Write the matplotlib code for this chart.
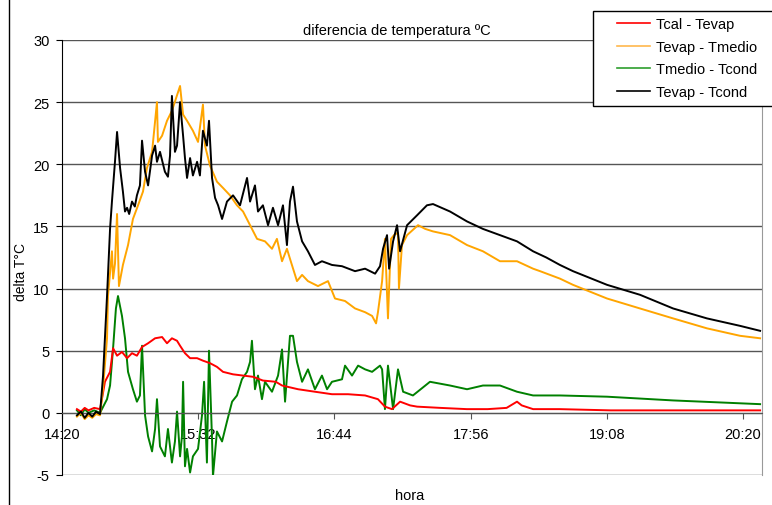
import numpy as np
import matplotlib
matplotlib.use("Agg")
import matplotlib.pyplot as plt
from matplotlib.lines import Line2D
from matplotlib.patches import Rectangle

plt.rcParams['font.family'] = ['Liberation Sans', 'DejaVu Sans']
plt.rcParams['axes.unicode_minus'] = False

# time in minutes after 14:20, values in degrees C
red_t = [7.9, 10, 12, 14, 17, 20.1, 21.1, 22.7, 25.4, 27.0, 29.1, 31.7, 34.4, 37.0, 39.6, 42.3,
         45.5, 49.2, 52.9, 55.5, 58.1, 60.8, 62.4, 65.0, 67.7, 71.4, 74.5, 78.2, 81.9, 85.1,
         90.4, 95.7, 101.0, 106.2, 113.0, 116.3, 124.8, 133.7, 142.7, 151.2, 160.2, 167.0,
         170.7, 174.4, 178.7, 184.0, 187.7, 200.0, 214.0, 225.0, 235.0, 240.5, 243.0, 249.0,
         263.0, 290.0, 320.0, 350.0, 369.0]
red_v = [0.3, 0.1, 0.4, 0.2, 0.4, 0.3, 1.1, 2.5, 3.3, 5.2, 4.6, 4.9, 4.4, 4.8, 4.6, 5.3,
         5.6, 6.0, 6.1, 5.6, 6.0, 5.8, 5.4, 4.8, 4.4, 4.4, 4.2, 4.0, 3.7, 3.3,
         3.1, 3.0, 2.9, 2.6, 2.5, 2.2, 1.9, 1.7, 1.5, 1.5, 1.4, 1.1,
         0.5, 0.3, 0.9, 0.6, 0.5, 0.4, 0.3, 0.3, 0.4, 0.9, 0.6, 0.3,
         0.3, 0.2, 0.2, 0.2, 0.2]

orange_t = [7.9, 10, 12, 14, 16, 18, 20.1, 21.7, 23.8, 24.3, 26.4, 27.0, 28.0, 29.1, 30.1, 32.2,
            34.9, 37.5, 40.2, 42.8, 44.9, 47.6, 50.2, 50.7, 52.9, 55.5, 58.1, 62.4, 64.0, 66.1,
            69.2, 71.9, 74.5, 75.6, 78.2, 81.9, 85.1, 88.8, 92.5, 95.7, 99.4, 103.1, 107.3,
            111.0, 113.6, 116.3, 118.9, 120.5, 124.2, 126.9, 130.0, 135.3, 140.6, 144.3, 149.6,
            154.9, 160.2, 163.9, 166.0, 167.0, 169.2, 170.7, 172.3, 173.9, 175.5, 177.6, 178.1,
            179.7, 182.4, 188.2, 192.0, 196.1, 205.1, 214.1, 222.5, 231.5, 240.5, 249.0, 252.7,
            263.2, 270.1, 288.1, 305.5, 323.0, 340.9, 358.4, 369.0]
orange_v = [-0.3, 0.0, -0.5, -0.2, -0.4, -0.1, -0.2, 2.0, 6.0, 9.4, 13.0, 10.8, 12.0, 16.0, 10.2, 11.9,
            13.5, 15.6, 16.7, 17.8, 19.7, 21.0, 25.0, 21.8, 22.3, 23.5, 24.3, 26.3, 24.0, 23.5,
            22.7, 21.8, 24.8, 21.5, 19.9, 18.6, 18.1, 17.5, 16.7, 16.2, 15.1, 14.0, 13.8,
            13.2, 14.0, 12.2, 13.2, 12.4, 10.6, 11.1, 10.6, 10.2, 10.6, 9.2, 9.0,
            8.4, 8.1, 7.8, 7.2, 8.1, 10.6, 14.0, 7.6, 14.0, 14.3, 14.5, 10.0,
            13.5, 14.3, 15.1, 14.8, 14.6, 14.3, 13.5, 13.0, 12.2, 12.2, 11.6, 11.4,
            10.8, 10.3, 9.2, 8.4, 7.6, 6.8, 6.2, 6.0]

green_t = [7.9, 10, 12, 14, 17, 20.1, 21.1, 23.8, 25.4, 27.0, 28.5, 29.6, 31.7, 33.3, 34.9, 37.5,
           39.6, 41.2, 42.3, 43.9, 45.5, 47.6, 49.2, 50.2, 51.8, 54.4, 56.0, 58.1, 59.7, 60.8,
           62.4, 63.4, 64.0, 65.0, 66.1, 67.7, 69.2, 71.9, 74.0, 75.1, 76.6, 77.7, 79.3, 79.8,
           81.9, 84.6, 87.2, 89.9, 92.5, 95.1, 97.8, 99.4, 100.4, 102.0, 103.6, 105.7, 107.3,
           111.0, 114.2, 116.3, 117.9, 120.5, 122.1, 124.2, 126.9, 130.0, 133.7, 137.4, 140.1,
           142.7, 148.0, 149.6, 153.3, 156.5, 160.2, 163.9, 168.1, 169.2, 170.7, 172.3, 175.0,
           177.6, 180.3, 185.5, 194.5, 205.1, 214.1, 222.5, 231.5, 240.5, 249.0, 263.2, 288.1,
           323.0, 369.0]
green_v = [0.2, -0.2, 0.3, 0.0, 0.2, 0.0, 0.3, 1.1, 2.2, 5.2, 8.4, 9.4, 7.8, 6.0, 3.3, 1.9,
           0.9, 1.4, 5.4, -0.2, -1.9, -3.1, -1.3, 1.1, -2.7, -3.5, -1.3, -4.0, -2.3, 0.1,
           -3.5, -1.9, 2.5, -4.3, -2.9, -4.8, -3.5, -2.9, -0.2, 2.5, -4.0, 5.0, -2.1, -5.1,
           -1.5, -2.3, -0.7, 0.9, 1.4, 2.7, 3.3, 4.1, 5.8, 1.9, 3.0, 1.1, 2.5,
           1.7, 3.0, 5.1, 0.9, 6.2, 6.2, 4.1, 2.5, 3.5, 1.9, 3.0, 1.9,
           2.5, 2.7, 3.8, 3.0, 3.8, 3.5, 3.3, 3.8, 3.5, 0.3, 3.8, 0.3,
           3.5, 1.7, 1.4, 2.5, 2.2, 1.9, 2.2, 2.2, 1.7, 1.4, 1.4, 1.3,
           1.0, 0.7]

black_t = [7.9, 10, 12, 14, 16, 18, 20.1, 21.7, 23.8, 25.4, 26.4, 28.0, 29.1, 30.7, 32.2, 33.3,
           34.4, 35.5, 37.0, 38.5, 39.6, 41.2, 42.3, 43.9, 45.5, 47.6, 49.2, 50.2, 51.8, 54.4,
           56.0, 57.1, 58.1, 59.7, 60.8, 62.4, 64.0, 65.0, 66.1, 67.7, 69.2, 71.4, 72.9, 74.5,
           76.6, 77.7, 79.3, 80.9, 82.5, 84.6, 87.2, 90.4, 94.1, 97.8, 99.4, 102.0, 103.6, 106.2,
           108.9, 111.5, 114.2, 116.8, 118.9, 120.5, 122.1, 124.2, 126.9, 130.0, 133.7, 137.4,
           142.7, 148.0, 154.9, 160.2, 165.5, 168.1, 169.7, 171.8, 172.9, 175.0, 177.1, 178.7,
           182.4, 187.7, 192.9, 196.1, 205.1, 214.1, 222.5, 231.5, 240.5, 249.0, 256.0, 263.2,
           270.1, 288.1, 305.5, 323.0, 340.9, 358.4, 369.0]
black_v = [-0.2, 0.1, -0.4, 0.0, -0.3, 0.1, -0.1, 3.0, 9.4, 14.8, 17.0, 20.2, 22.6, 19.7, 17.8, 16.2,
           16.5, 16.0, 17.0, 16.6, 17.5, 18.3, 21.9, 19.4, 18.3, 20.7, 21.5, 20.2, 21.0, 19.4,
           19.0, 20.7, 25.5, 21.0, 21.5, 25.0, 22.3, 20.5, 18.9, 20.5, 19.1, 20.2, 19.1, 22.7,
           21.5, 23.5, 18.9, 17.3, 16.7, 15.6, 17.0, 17.5, 16.7, 18.9, 17.0, 18.3, 16.2, 16.7,
           15.1, 16.5, 15.1, 16.7, 13.5, 17.0, 18.2, 15.4, 13.8, 13.0, 11.9, 12.2,
           11.9, 11.8, 11.4, 11.6, 11.2, 11.8, 13.2, 14.3, 11.6, 13.8, 15.1, 13.0,
           15.1, 15.9, 16.7, 16.8, 16.2, 15.4, 14.8, 14.3, 13.8, 13.0, 12.5, 11.9,
           11.4, 10.3, 9.5, 8.4, 7.6, 7.0, 6.6]

series_names = ["Tcal - Tevap", "Tevap - Tmedio", "Tmedio - Tcond", "Tevap - Tcond"]
tick_minutes = [0, 72, 144, 216, 288, 360]
tick_labels = ["14:20", "15:32", "16:44", "17:56", "19:08", "20:20"]

W, H = 772, 506
fig = plt.figure(figsize=(W / 100, H / 100), dpi=100)
ax = fig.add_axes([62 / W, 1 - 476 / H, 700 / W, 435 / H])

lw = 1.4
ax.plot(red_t, red_v, color='#ff0000', lw=lw, zorder=3)
ax.plot(orange_t, orange_v, color='#ffa500', lw=lw, zorder=4)
ax.plot(green_t, green_v, color='#008000', lw=lw, zorder=2)
ax.plot(black_t, black_v, color='black', lw=lw, zorder=5)

ax.set_xlim(0, 370)
ax.set_ylim(-5, 30)
ax.set_yticks(np.arange(-5, 31, 5))
ax.set_xticks(tick_minutes)
ax.set_xticklabels(tick_labels)
ax.yaxis.grid(True, color='#555555', lw=1.0)
ax.set_axisbelow(True)

ax.spines['bottom'].set_position(('data', 0))
ax.spines['bottom'].set_color('#555555')
ax.spines['top'].set_visible(False)
ax.spines['right'].set_color('#999999')
ax.spines['left'].set_color('black')
ax.tick_params(axis='x', direction='out', length=4, pad=6, labelsize=10.5, color='#555555')
ax.tick_params(axis='y', direction='out', length=4, pad=5, labelsize=10.5)

ax.set_title("diferencia de temperatura ºC", fontsize=10.5, x=0.479, pad=4)
ax.set_ylabel("delta T°C", fontsize=10)
ax.yaxis.set_label_coords(-0.048, 0.47)
ax.set_xlabel("hora", fontsize=10.5)
ax.xaxis.set_label_coords(0.497, -0.03)

# legend: frame drawn by hand so it runs off the right edge like the original
fig.add_artist(Rectangle((593 / W, 1 - 107 / H), 190 / W, 95 / H, transform=fig.transFigure,
                         facecolor='white', edgecolor='black', lw=1.0, zorder=10))
handles = [Line2D([], [], color=c, lw=1.2) for c in ['#ff0000', '#ffb84d', '#2e9e2e', 'black']]
leg = fig.legend(handles, series_names, loc='upper left', bbox_to_anchor=(614 / W, 1 - 15 / H),
                 fontsize=10.5, frameon=False, handlelength=2.3, labelspacing=0.6,
                 borderpad=0.2, handletextpad=0.35, borderaxespad=0)
leg.set_zorder(11)

# outer chart border on the left
fig.add_artist(Line2D([9 / W, 9 / W], [0, 1], color='black', lw=1.0, transform=fig.transFigure))

fig.savefig("out.png", dpi=100)
